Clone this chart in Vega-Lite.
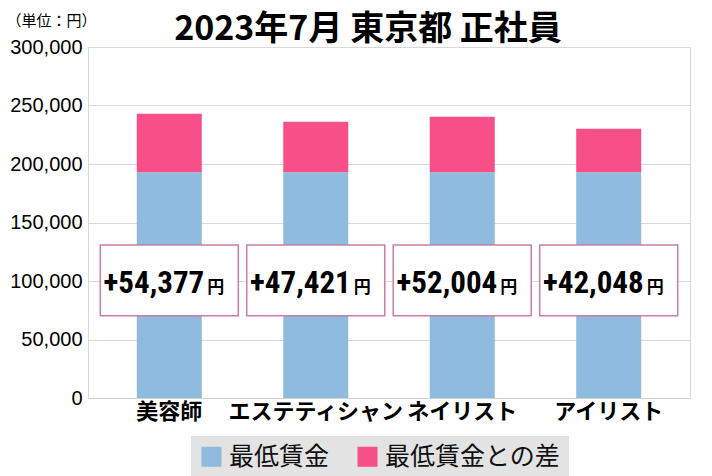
{
  "$schema": "https://vega.github.io/schema/vega-lite/v6.json",
  "width": 602,
  "height": 351,
  "autosize": "none",
  "padding": {"left": 88, "top": 47, "right": 22, "bottom": 78},
  "background": "white",
  "title": {
    "text": "2023年7月 東京都 正社員",
    "font": "Noto Sans CJK JP",
    "fontSize": 34,
    "fontWeight": "bold",
    "color": "black",
    "anchor": "middle",
    "dx": -21,
    "dy": 38,
    "offset": 4
  },
  "datasets": {
    "bars": [
      {"職種": "美容師", "系列": "最低賃金", "金額": 192900},
      {"職種": "美容師", "系列": "最低賃金との差", "金額": 50000},
      {"職種": "エステティシャン", "系列": "最低賃金", "金額": 192900},
      {"職種": "エステティシャン", "系列": "最低賃金との差", "金額": 43200},
      {"職種": "ネイリスト", "系列": "最低賃金", "金額": 192900},
      {"職種": "ネイリスト", "系列": "最低賃金との差", "金額": 47500},
      {"職種": "アイリスト", "系列": "最低賃金", "金額": 192900},
      {"職種": "アイリスト", "系列": "最低賃金との差", "金額": 37200}
    ],
    "labels": [
      {"職種": "美容師", "差額": "+54,377"},
      {"職種": "エステティシャン", "差額": "+47,421"},
      {"職種": "ネイリスト", "差額": "+52,004"},
      {"職種": "アイリスト", "差額": "+42,048"}
    ]
  },
  "encoding": {
    "x": {
      "field": "職種",
      "type": "nominal",
      "sort": ["美容師", "エステティシャン", "ネイリスト", "アイリスト"],
      "scale": {"paddingInner": 0.556, "paddingOuter": 0.333},
      "axis": {
        "title": null,
        "labelAngle": 0,
        "labelFont": "Noto Sans CJK JP",
        "labelFontSize": 22,
        "labelFontWeight": "bold",
        "labelColor": "black",
        "labelPadding": 3,
        "labelOverlap": false,
        "labelLimit": 300,
        "ticks": false,
        "domainColor": "#d0d0d0"
      }
    }
  },
  "layer": [
    {
      "data": {"name": "bars"},
      "mark": {"type": "bar", "width": 65},
      "encoding": {
        "y": {
          "field": "金額",
          "type": "quantitative",
          "stack": "zero",
          "scale": {"domain": [0, 300000]},
          "axis": {
            "title": "（単位：円）",
            "titleAngle": 0,
            "titleAlign": "left",
            "titleBaseline": "middle",
            "titleX": -82,
            "titleY": -27,
            "titleFont": "Noto Sans CJK JP",
            "titleFontSize": 15,
            "titleFontWeight": "normal",
            "titleColor": "black",
            "values": [0, 50000, 100000, 150000, 200000, 250000, 300000],
            "format": ",d",
            "labelFont": "Liberation Sans",
            "labelFontSize": 20,
            "labelColor": "black",
            "labelPadding": 6,
            "ticks": false,
            "domain": false,
            "gridColor": "#d9d9d9"
          }
        },
        "order": {"field": "系列", "sort": "ascending"},
        "color": {
          "field": "系列",
          "type": "nominal",
          "scale": {"domain": ["最低賃金", "最低賃金との差"], "range": ["#8fbbdf", "#f74f88"]},
          "legend": {
            "title": null,
            "orient": "none",
            "direction": "horizontal",
            "legendX": 103,
            "legendY": 389,
            "fillColor": "#e3e3e3",
            "padding": 8,
            "symbolType": "square",
            "symbolSize": 400,
            "symbolStrokeWidth": 0,
            "labelFont": "Noto Sans CJK JP",
            "labelFontSize": 25,
            "labelColor": "#111111",
            "labelOffset": 5,
            "columnPadding": 25,
            "labelLimit": 300
          }
        }
      }
    },
    {
      "data": {"name": "labels"},
      "mark": {"type": "bar", "width": 138, "fill": "white", "stroke": "#c97fa6", "strokeWidth": 1.5},
      "encoding": {
        "y": {"datum": 130800, "type": "quantitative"},
        "y2": {"datum": 70300}
      }
    },
    {
      "data": {"name": "labels"},
      "mark": {"type": "text", "align": "right", "baseline": "alphabetic", "dx": 35, "font": "Roboto Condensed, DejaVu Sans Condensed, Roboto", "fontWeight": "bold", "fontSize": 31, "color": "black"},
      "encoding": {
        "y": {"datum": 89850, "type": "quantitative"},
        "text": {"field": "差額"}
      }
    },
    {
      "data": {"name": "labels"},
      "mark": {"type": "text", "align": "left", "baseline": "alphabetic", "dx": 38, "font": "Noto Sans CJK JP", "fontWeight": "bold", "fontSize": 17, "color": "black", "text": "円"},
      "encoding": {
        "y": {"datum": 89850, "type": "quantitative"}
      }
    }
  ],
  "config": {
    "view": {"stroke": "#d9d9d9"}
  }
}
